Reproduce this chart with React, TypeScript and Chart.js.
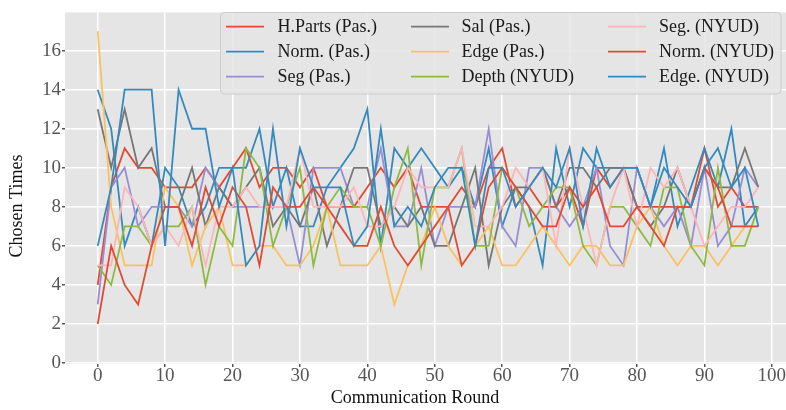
import React, { useEffect, useRef } from "react";
import { Chart, registerables } from "chart.js";
Chart.register(...registerables);

const ROUNDS = [
  0, 2, 4, 6, 8, 10, 12, 14, 16, 18,
  20, 22, 24, 26, 28, 30, 32, 34, 36, 38,
  40, 42, 44, 46, 48, 50, 52, 54, 56, 58,
  60, 62, 64, 66, 68, 70, 72, 74, 76, 78,
  80, 82, 84, 86, 88, 90, 92, 94, 96, 98,
];

const X_TICKS = [0, 10, 20, 30, 40, 50, 60, 70, 80, 90, 100];
const Y_TICKS = [0, 2, 4, 6, 8, 10, 12, 14, 16];

const HPARTS_PAS = [
  4, 9, 11, 10, 10, 9, 9, 9, 10, 9,
  10, 11, 9, 10, 10, 9, 10, 8, 8, 8,
  9, 10, 9, 10, 8, 8, 8, 9, 8, 10,
  11, 8, 9, 8, 8, 9, 7, 10, 9, 10,
  8, 8, 8, 8, 8, 11, 8, 9, 8, 8,
];
const NORM_PAS = [
  14, 12, 6, 8, 6, 10, 9, 7, 8, 10,
  10, 10, 12, 8, 10, 7, 7, 9, 10, 11,
  13, 6, 11, 10, 11, 10, 9, 10, 8, 11,
  7, 9, 8, 5, 11, 8, 11, 10, 10, 10,
  10, 8, 11, 7, 9, 11, 9, 12, 7, 8,
];
const SEG_PAS = [
  3, 9, 10, 7, 8, 8, 8, 7, 10, 9,
  8, 8, 8, 8, 8, 5, 10, 10, 10, 8,
  8, 11, 7, 7, 10, 6, 8, 8, 8, 12,
  7, 6, 10, 10, 8, 7, 8, 10, 6, 5,
  10, 8, 7, 8, 6, 10, 6, 7, 10, 9,
];
const SAL_PAS = [
  13, 10, 13, 10, 11, 8, 8, 10, 7, 9,
  8, 9, 10, 7, 8, 7, 9, 6, 8, 10,
  10, 7, 8, 7, 8, 6, 6, 8, 10, 5,
  8, 9, 9, 10, 8, 10, 10, 9, 10, 10,
  8, 7, 8, 10, 8, 10, 9, 9, 11, 9,
];
const EDGE_PAS = [
  17, 8, 5, 5, 5, 9, 8, 5, 7, 8,
  5, 5, 6, 6, 5, 5, 6, 8, 5, 5,
  5, 6, 3, 5, 6, 8, 6, 5, 6, 7,
  5, 5, 6, 7, 6, 5, 6, 6, 5, 5,
  7, 8, 6, 5, 6, 6, 5, 6, 7, 7,
];
const DEPTH_NYUD = [
  5, 4, 7, 7, 6, 7, 7, 8, 4, 7,
  6, 11, 10, 6, 8, 10, 5, 8, 9, 8,
  8, 6, 9, 11, 5, 9, 9, 11, 6, 6,
  10, 9, 7, 8, 9, 9, 6, 5, 8, 8,
  7, 6, 9, 9, 6, 5, 10, 6, 6, 8,
];
const SEG_NYUD = [
  5, 5, 9, 8, 6, 7, 6, 8, 5, 8,
  8, 9, 8, 8, 8, 11, 8, 8, 8, 9,
  7, 7, 8, 10, 9, 9, 9, 11, 7, 7,
  8, 10, 9, 10, 6, 11, 8, 5, 8, 10,
  7, 10, 9, 10, 8, 6, 7, 8, 8, 9,
];
const NORM_NYUD = [
  2, 6, 4, 3, 6, 8, 8, 6, 9, 7,
  9, 8, 5, 9, 8, 8, 9, 8, 7, 6,
  6, 8, 6, 5, 6, 7, 8, 5, 6, 9,
  10, 9, 8, 7, 7, 9, 8, 9, 7, 7,
  8, 7, 6, 8, 8, 10, 9, 7, 7, 7,
];
const EDGE_NYUD = [
  6, 9, 14, 14, 14, 6, 14, 12, 12, 8,
  10, 5, 6, 12, 7, 11, 9, 9, 9, 6,
  7, 12, 7, 8, 7, 9, 10, 10, 6, 10,
  10, 8, 9, 10, 9, 11, 7, 11, 9, 10,
  10, 8, 10, 9, 8, 10, 11, 9, 10, 7,
];

const SERIES_NAMES = [
  "H.Parts (Pas.)",
  "Norm. (Pas.)",
  "Seg (Pas.)",
  "Sal (Pas.)",
  "Edge (Pas.)",
  "Depth (NYUD)",
  "Seg. (NYUD)",
  "Norm. (NYUD)",
  "Edge. (NYUD)",
];
const COLORS = [
  "#E24A33",
  "#348ABD",
  "#988ED5",
  "#777777",
  "#FBC15E",
  "#8EBA42",
  "#FFB5B8",
  "#E24A33",
  "#348ABD",
];

const FONT = "'Liberation Serif', 'Times New Roman', serif";

export default function App() {
  const ref = useRef<HTMLCanvasElement>(null);

  useEffect(() => {
    document.body.style.margin = "0";
    const series = [
      HPARTS_PAS, NORM_PAS, SEG_PAS, SAL_PAS, EDGE_PAS,
      DEPTH_NYUD, SEG_NYUD, NORM_NYUD, EDGE_NYUD,
    ];
    const datasets = series.map((vals, i) => ({
      label: SERIES_NAMES[i],
      data: ROUNDS.map((r, j) => ({ x: r, y: vals[j] })),
      borderColor: COLORS[i],
      backgroundColor: COLORS[i],
      borderWidth: 1.8,
      pointRadius: 0,
      pointHoverRadius: 0,
      tension: 0,
      fill: false,
      order: -i,
    }));

    const bgPlugin = {
      id: "plotBg",
      beforeDraw(chart: any) {
        const { ctx, chartArea: a } = chart;
        ctx.save();
        ctx.fillStyle = "#E5E5E5";
        ctx.fillRect(a.left, a.top, a.right - a.left, a.bottom - a.top);
        ctx.restore();
      },
    };

    const titlePlugin = {
      id: "axisTitles",
      afterDraw(chart: any) {
        const { ctx } = chart;
        ctx.save();
        ctx.fillStyle = "#111111";
        ctx.font = `18px ${FONT}`;
        ctx.textAlign = "center";
        ctx.textBaseline = "middle";
        ctx.fillText("Communication Round", 415, 398);
        ctx.translate(17, 206);
        ctx.rotate(-Math.PI / 2);
        ctx.fillText("Chosen Times", 0, 0);
        ctx.restore();
      },
    };

    const legendPlugin = {
      id: "gridLegend",
      afterDraw(chart: any) {
        const { ctx } = chart;
        const bx = 220.5, by = 12.5, bw = 560.5, bh = 81.5, rad = 4;
        ctx.save();
        ctx.beginPath();
        ctx.moveTo(bx + rad, by);
        ctx.lineTo(bx + bw - rad, by);
        ctx.quadraticCurveTo(bx + bw, by, bx + bw, by + rad);
        ctx.lineTo(bx + bw, by + bh - rad);
        ctx.quadraticCurveTo(bx + bw, by + bh, bx + bw - rad, by + bh);
        ctx.lineTo(bx + rad, by + bh);
        ctx.quadraticCurveTo(bx, by + bh, bx, by + bh - rad);
        ctx.lineTo(bx, by + rad);
        ctx.quadraticCurveTo(bx, by, bx + rad, by);
        ctx.closePath();
        ctx.fillStyle = "rgba(229,229,229,0.85)";
        ctx.fill();
        ctx.strokeStyle = "#CCCCCC";
        ctx.lineWidth = 1;
        ctx.stroke();

        const lineX = [226, 411, 608];
        const textX = [277.5, 461.5, 659];
        const rowY = [26.7, 51.7, 76.7];
        ctx.font = `18px ${FONT}`;
        ctx.textBaseline = "middle";
        ctx.textAlign = "left";
        SERIES_NAMES.forEach((name, i) => {
          const col = Math.floor(i / 3);
          const row = i % 3;
          const y = rowY[row];
          ctx.beginPath();
          ctx.strokeStyle = COLORS[i];
          ctx.lineWidth = 1.8;
          ctx.moveTo(lineX[col], y);
          ctx.lineTo(lineX[col] + 38, y);
          ctx.stroke();
          ctx.fillStyle = "#1a1a1a";
          ctx.fillText(name, textX[col], y + 1);
        });
        ctx.restore();
      },
    };

    const chart = new Chart(ref.current as HTMLCanvasElement, {
      type: "line",
      data: { datasets: datasets as any },
      options: {
        animation: false,
        responsive: false,
        maintainAspectRatio: false,
        layout: { padding: { top: 5, left: 0, right: 0, bottom: 0 } },
        plugins: {
          legend: { display: false },
          tooltip: { enabled: false },
        },
        scales: {
          x: {
            type: "linear",
            min: -4.85,
            max: 102.1,
            afterBuildTicks: (s: any) => {
              s.ticks = X_TICKS.map((v) => ({ value: v }));
            },
            afterFit: (s: any) => {
              s.height = 46;
            },
            grid: {
              color: "#FFFFFF",
              lineWidth: 1.5,
              tickColor: "#555555",
              tickLength: 3,
              drawTicks: true,
            },
            border: { display: false },
            ticks: {
              font: { family: FONT, size: 19 },
              color: "#555555",
              padding: -2,
              maxRotation: 0,
              autoSkip: false,
            },
          },
          y: {
            type: "linear",
            min: -0.05,
            max: 17.96,
            afterBuildTicks: (s: any) => {
              s.ticks = Y_TICKS.map((v) => ({ value: v }));
            },
            afterFit: (s: any) => {
              s.width = 65;
            },
            grid: {
              color: "#FFFFFF",
              lineWidth: 1.5,
              tickColor: "#555555",
              tickLength: 3,
              drawTicks: true,
            },
            border: { display: false },
            ticks: {
              font: { family: FONT, size: 19 },
              color: "#555555",
              padding: 1,
              autoSkip: false,
            },
          },
        },
      },
      plugins: [bgPlugin, titlePlugin, legendPlugin],
    });
    return () => chart.destroy();
  }, []);

  return (
    <div style={{ position: "absolute", left: 0, top: 0, width: 786, height: 410 }}>
      <canvas ref={ref} width={786} height={410} style={{ width: 786, height: 410, display: "block" }} />
    </div>
  );
}
